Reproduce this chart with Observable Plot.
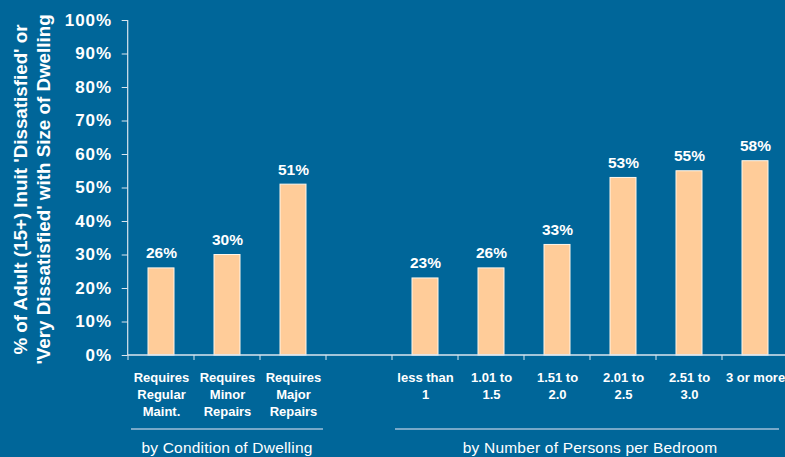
<!DOCTYPE html>
<html>
<head>
<meta charset="utf-8">
<script src="https://cdn.jsdelivr.net/npm/d3@7"></script>
<script src="https://cdn.jsdelivr.net/npm/@observablehq/plot@0.6"></script>
<style>
  html, body { margin: 0; padding: 0; background: #006699; }
  g[aria-label="y-axis tick label"] text { letter-spacing: 1px; }
</style>
</head>
<body>
<div id="chart"></div>
<script>
// ---- data ----
const conditionCategories = ["Requires\nRegular\nMaint.", "Requires\nMinor\nRepairs", "Requires\nMajor\nRepairs"];
const conditionValues = [0.26, 0.30, 0.51];
const bedroomCategories = ["less than\n1", "1.01 to\n1.5", "1.51 to\n2.0", "2.01 to\n2.5", "2.51 to\n3.0", "3 or more"];
const bedroomValues = [0.23, 0.26, 0.33, 0.53, 0.55, 0.58];
const spacer = " ";
const groupLabels = ["by Condition of Dwelling", "by Number of Persons per Bedroom"];
const yTicks = [0, 0.1, 0.2, 0.3, 0.4, 0.5, 0.6, 0.7, 0.8, 0.9, 1.0];
const yTitle = ["% of Adult (15+) Inuit 'Dissatisfied' or", "'Very Dissatisfied' with Size of Dwelling"];

// ---- derived tables ----
const domain = [...conditionCategories, spacer, ...bedroomCategories];
const bars = [
  ...conditionCategories.map((c, i) => ({category: c, value: conditionValues[i]})),
  ...bedroomCategories.map((c, i) => ({category: c, value: bedroomValues[i]}))
];
const groups = [
  {label: groupLabels[0], cats: conditionCategories},
  {label: groupLabels[1], cats: bedroomCategories}
];

const axisColor = "#dbe6ef";
const bg = "#006699";
const pct = d3.format(".0%");

// custom mark: y-axis line, boundary ticks, group brackets
function decorations(index, scales, values, dims) {
  const x = scales.x, y = scales.y;
  const step = x.step(), bw = x.bandwidth();
  const half = (step - bw) / 2;
  const g = d3.create("svg:g");
  const y0 = y(0);
  g.append("line")
    .attr("x1", dims.marginLeft).attr("x2", dims.marginLeft)
    .attr("y1", y(1)).attr("y2", y0)
    .attr("stroke", axisColor).attr("stroke-width", 1.2);
  g.append("line")
    .attr("x1", dims.marginLeft).attr("x2", dims.width)
    .attr("y1", y0).attr("y2", y0)
    .attr("stroke", axisColor).attr("stroke-width", 1.5);
  for (const c of domain) {
    const bx = x(c) - half;
    g.append("line")
      .attr("x1", bx).attr("x2", bx)
      .attr("y1", y0).attr("y2", y0 + 5)
      .attr("stroke", axisColor).attr("stroke-width", 1);
  }
  for (const grp of groups) {
    const x1 = x(grp.cats[0]) - half + 3;
    const x2 = Math.min(x(grp.cats[grp.cats.length - 1]) + bw + half - 3, dims.width - 6);
    const ly = dims.height - 28;
    g.append("line")
      .attr("x1", x1).attr("x2", x2)
      .attr("y1", ly).attr("y2", ly)
      .attr("stroke", "#9fbfd8").attr("stroke-width", 1.5);
    const cx = (x(grp.cats[0]) - half + x(grp.cats[grp.cats.length - 1]) + bw + half) / 2;
    g.append("text")
      .attr("x", cx).attr("y", dims.height - 4.5)
      .attr("text-anchor", "middle")
      .attr("fill", "white")
      .attr("font-size", 15.5)
      .attr("letter-spacing", "0.2px")
      .text(grp.label);
  }
  return g.node();
}

const chart = Plot.plot({
  width: 785,
  height: 457,
  marginLeft: 127.7,
  marginRight: -2.7,
  marginTop: 20,
  marginBottom: 102,
  style: {
    background: bg,
    color: "white",
    fontFamily: "'Liberation Sans', Arial, sans-serif",
    overflow: "visible"
  },
  x: {domain, paddingInner: 0.6, paddingOuter: 0.3, axis: null},
  y: {domain: [0, 1], axis: null},
  marks: [
    Plot.barY(bars, {x: "category", y: "value", fill: "#FFCC99", stroke: "#fff6ea", strokeWidth: 1}),
    Plot.text(bars, {
      x: "category", y: "value", text: d => pct(d.value),
      dy: -10, lineAnchor: "bottom", fill: "white",
      fontSize: 15.5, fontWeight: "bold"
    }),
    Plot.axisY({
      ticks: yTicks, tickFormat: pct, tickSize: 6, tickPadding: 10,
      stroke: axisColor, fill: "white", fontSize: 17, fontWeight: "bold", label: null
    }),
    Plot.text(domain, {
      x: d => d, text: d => d, frameAnchor: "bottom",
      dy: 15, lineAnchor: "top", textAnchor: "middle",
      fill: "white", fontSize: 13, fontWeight: "bold", lineHeight: 1.29
    }),
    Plot.text([yTitle.join("\n")], {
      text: d => d, frameAnchor: "left", rotate: -90,
      dx: -78, dy: 1.5, lineAnchor: "bottom", textAnchor: "middle",
      lineHeight: 1.25, fontSize: 18.8, fontWeight: "bold", fill: "white"
    }),
    decorations
  ]
});

document.getElementById("chart").appendChild(chart);
</script>
</body>
</html>
